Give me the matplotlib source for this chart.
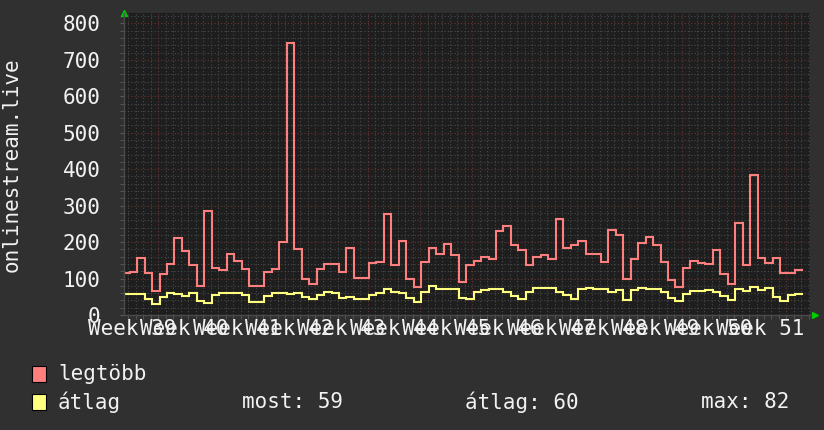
import matplotlib
matplotlib.use('Agg')
import matplotlib.pyplot as plt
import numpy as np
from matplotlib.patches import Rectangle
from matplotlib.transforms import blended_transform_factory

# daily values (day index -5 .. 85, day 0 = start of week 40)
max_vals = [116, 119, 157, 116, 67, 113, 141, 210, 175, 138,
            80, 286, 130, 123, 168, 147, 127, 80, 80, 117,
            127, 201, 746, 182, 98, 84, 125, 141, 139, 119,
            185, 101, 102, 142, 145, 277, 137, 203, 98, 78,
            145, 185, 168, 196, 165, 91, 137, 148, 160, 154,
            230, 244, 192, 178, 137, 160, 165, 155, 264, 185,
            192, 204, 166, 166, 145, 232, 219, 98, 154, 197,
            215, 192, 146, 95, 78, 128, 149, 144, 141, 178,
            112, 85, 253, 137, 385, 156, 144, 157, 116, 116,
            123]
avg_vals = [57, 57, 57, 43, 31, 49, 61, 57, 52, 59,
            39, 34, 55, 60, 60, 60, 54, 36, 36, 51,
            60, 60, 58, 59, 50, 43, 55, 62, 59, 48,
            49, 43, 43, 56, 61, 72, 64, 61, 46, 37,
            62, 80, 72, 72, 72, 48, 45, 63, 69, 70,
            70, 62, 52, 43, 62, 74, 74, 74, 64, 54,
            43, 71, 73, 70, 70, 63, 69, 42, 69, 75,
            70, 70, 62, 48, 39, 58, 66, 66, 69, 63,
            52, 42, 72, 67, 77, 69, 73, 50, 38, 56,
            57]
first_day = -5
step_offset = 0.16
week_labels = ['Week %d' % w for w in range(39, 52)]
y_label = 'onlinestream.live'
legend_names = ['legtöbb', 'átlag']
stats = ['most: 59', 'átlag: 60', 'max: 82']

W, H = 824, 430
FONT = 'DejaVu Sans Mono'
FS = 15
TXT = '#f2f2f2'
BG = '#303030'
CANVAS = '#1e1e1e'
RED = '#ff7f7f'
YEL = '#ffff7f'

fig = plt.figure(figsize=(W / 100, H / 100), dpi=100, facecolor=BG)
L, R, T, B = 124, 810, 13, 315
ax = fig.add_axes([L / W, 1 - B / H, (R - L) / W, (B - T) / H])
ax.set_facecolor(CANVAS)

xmin, xmax = -4.59, 87.15
ax.set_xlim(xmin, xmax)
ax.set_ylim(0, 828.5)

# grid
ax.set_xticks(np.arange(0, 85, 7))
ax.set_xticks(np.arange(-4, 88, 1), minor=True)
ax.set_yticks(np.arange(0, 801, 100))
ax.set_yticks(np.arange(0, 821, 20), minor=True)
ax.grid(which='minor', color='#4a4a4a', ls=(0, (1, 2)), lw=0.8)
ax.grid(which='major', color='#6a3434', ls=(0, (1, 2)), lw=0.8)
ax.set_axisbelow(True)
ax.set_xticklabels([])
ax.set_yticklabels(['%d' % v for v in range(0, 801, 100)], fontfamily=FONT,
                   fontsize=FS, color=TXT)
ax.tick_params(axis='both', which='both', length=3, color='#5a5a5a', pad=14)
ax.tick_params(axis='x', which='both', length=3, direction='out')
for s in ['top', 'right']:
    ax.spines[s].set_visible(False)
for s in ['left', 'bottom']:
    ax.spines[s].set_color('#4a4a4a')
    ax.spines[s].set_linewidth(1)

edges = first_day + step_offset + np.arange(len(max_vals) + 1)
ax.stairs(avg_vals, edges, baseline=None, color=YEL, lw=1.5)
ax.stairs(max_vals, edges, baseline=None, color=RED, lw=1.5)

# week labels centred on mid-week
tr = blended_transform_factory(ax.transData, fig.transFigure)
for i, lab in enumerate(week_labels):
    ax.text(-3.5 + 7 * i, 1 - 329 / H, lab, transform=tr, ha='center',
            va='center', fontfamily=FONT, fontsize=FS, color=TXT, clip_on=False)

# axis arrows
ax.plot([0], [1.0], transform=ax.transAxes, marker='^', color='#00cc00',
        ms=5, clip_on=False)
ax.plot([1.0075], [0], transform=ax.transAxes, marker='>', color='#00cc00',
        ms=5, clip_on=False)

fig.text(12 / W, 1 - 165 / H, y_label, rotation=90, ha='center', va='center',
         fontfamily=FONT, fontsize=FS, color=TXT)

# legend
for i, (name, col) in enumerate(zip(legend_names, [RED, YEL])):
    yc = 374 + 28 * i
    fig.patches.append(Rectangle((32 / W, 1 - (yc + 8) / H), 14 / W, 16 / H,
                                 transform=fig.transFigure, facecolor=col,
                                 edgecolor='black', lw=0.8))
    fig.text(58 / W, 1 - yc / H, name, ha='left', va='center',
             fontfamily=FONT, fontsize=FS, color=TXT)
for x, s in zip([242, 465, 701], stats):
    fig.text(x / W, 1 - 402 / H, s, ha='left', va='center',
             fontfamily=FONT, fontsize=FS, color=TXT)

fig.savefig('out.png', dpi=100, facecolor=BG)
